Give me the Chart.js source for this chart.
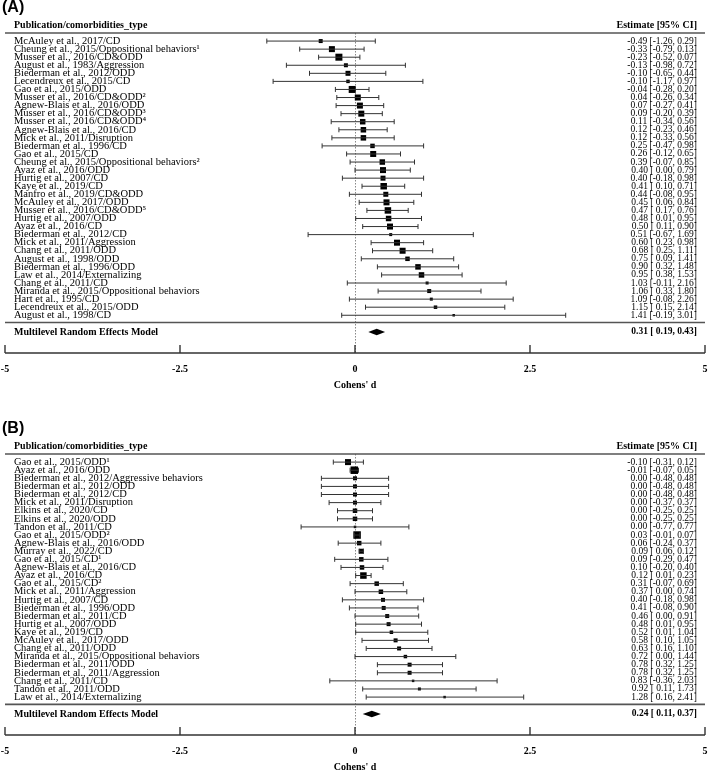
<!DOCTYPE html>
<html>
<head>
<meta charset="utf-8">
<script src="https://cdn.jsdelivr.net/npm/chart.js@4.4.1/dist/chart.umd.min.js"></script>
<style>
  html, body { margin: 0; padding: 0; background: #fff; }
  canvas { position: absolute; left: 0; }
  #chartA { top: 0; }
  #chartB { top: 421px; }
</style>
</head>
<body>
<canvas id="chartA" width="709" height="421"></canvas>
<canvas id="chartB" width="709" height="355"></canvas>
<script>
// ---- panel A data ----
var studiesA = [
  "McAuley et al., 2017/CD", "Cheung et al., 2015/Oppositional behaviors\u00b9", "Musser et al., 2016/CD&ODD",
  "August et al., 1983/Aggression", "Biederman et al., 2012/ODD", "Lecendreux et al., 2015/CD",
  "Gao et al., 2015/ODD", "Musser et al., 2016/CD&ODD\u00b2", "Agnew-Blais et al., 2016/ODD",
  "Musser et al., 2016/CD&ODD\u00b3", "Musser et al., 2016/CD&ODD\u2074", "Agnew-Blais et al., 2016/CD",
  "Mick et al., 2011/Disruption", "Biederman et al., 1996/CD", "Gao et al., 2015/CD",
  "Cheung et al., 2015/Oppositional behaviors\u00b2", "Ayaz et al., 2016/ODD", "Hurtig et al., 2007/CD",
  "Kaye et al., 2019/CD", "Manfro et al., 2019/CD&ODD", "McAuley et al., 2017/ODD",
  "Musser et al., 2016/CD&ODD\u2075", "Hurtig et al., 2007/ODD", "Ayaz et al., 2016/CD",
  "Biederman et al., 2012/CD", "Mick et al., 2011/Aggression", "Chang et al., 2011/ODD",
  "August et al., 1998/ODD", "Biederman et al., 1996/ODD", "Law et al., 2014/Externalizing",
  "Chang et al., 2011/CD", "Miranda et al., 2015/Oppositional behaviors", "Hart et al., 1995/CD",
  "Lecendreux et al., 2015/ODD", "August et al., 1998/CD"
];
var estA  = [-0.49,-0.33,-0.23,-0.13,-0.10,-0.10,-0.04,0.04,0.07,0.09,0.11,0.12,0.12,0.25,0.26,0.39,0.40,0.40,0.41,0.44,0.45,0.47,0.48,0.50,0.51,0.60,0.68,0.75,0.90,0.95,1.03,1.06,1.09,1.15,1.41];
var lowA  = [-1.26,-0.79,-0.52,-0.98,-0.65,-1.17,-0.28,-0.26,-0.27,-0.20,-0.34,-0.23,-0.33,-0.47,-0.12,-0.07,0.00,-0.18,0.10,-0.08,0.06,0.17,0.01,0.11,-0.67,0.23,0.25,0.09,0.32,0.38,-0.11,0.33,-0.08,0.15,-0.19];
var highA = [0.29,0.13,0.07,0.72,0.44,0.97,0.20,0.34,0.41,0.39,0.56,0.46,0.56,0.98,0.65,0.85,0.79,0.98,0.71,0.95,0.84,0.76,0.95,0.90,1.69,0.98,1.11,1.41,1.48,1.53,2.16,1.80,2.26,2.14,3.01];
// relative study weight (box size)
var weightA = [4,6,7,4,5,3.5,7,6,6,6,5.5,5.5,5.5,4.5,6,5.5,6,5,6.5,5,6,6.5,5.5,6,3,6,6,4.5,5.5,5.5,3,4,3,3.5,2.5];
var pooledA = [0.31, 0.19, 0.43];

// ---- panel B data ----
var studiesB = [
  "Gao et al., 2015/ODD\u00b9", "Ayaz et al., 2016/ODD", "Biederman et al., 2012/Aggressive behaviors",
  "Biederman et al., 2012/ODD", "Biederman et al., 2012/CD", "Mick et al., 2011/Disruption",
  "Elkins et al., 2020/CD", "Elkins et al., 2020/ODD", "Tandon et al., 2011/CD",
  "Gao et al., 2015/ODD\u00b2", "Agnew-Blais et al., 2016/ODD", "Murray et al., 2022/CD",
  "Gao et al., 2015/CD\u00b9", "Agnew-Blais et al., 2016/CD", "Ayaz et al., 2016/CD",
  "Gao et al., 2015/CD\u00b2", "Mick et al., 2011/Aggression", "Hurtig et al., 2007/CD",
  "Biederman et al., 1996/ODD", "Biederman et al., 2011/CD", "Hurtig et al., 2007/ODD",
  "Kaye et al., 2019/CD", "McAuley et al., 2017/ODD", "Chang et al., 2011/ODD",
  "Miranda et al., 2015/Oppositional behaviors", "Biederman et al., 2011/ODD", "Biederman et al., 2011/Aggression",
  "Chang et al., 2011/CD", "Tandon et al., 2011/ODD", "Law et al., 2014/Externalizing"
];
var estB  = [-0.10,-0.01,0.00,0.00,0.00,0.00,0.00,0.00,0.00,0.03,0.06,0.09,0.09,0.10,0.12,0.31,0.37,0.40,0.41,0.46,0.48,0.52,0.58,0.63,0.72,0.78,0.78,0.83,0.92,1.28];
var lowB  = [-0.31,-0.07,-0.48,-0.48,-0.48,-0.37,-0.25,-0.25,-0.77,-0.01,-0.24,0.06,-0.29,-0.20,0.01,-0.07,0.00,-0.18,-0.08,0.00,0.01,0.01,0.10,0.16,0.00,0.32,0.32,-0.36,0.11,0.16];
var highB = [0.12,0.05,0.48,0.48,0.48,0.37,0.25,0.25,0.77,0.07,0.37,0.12,0.47,0.40,0.23,0.69,0.74,0.98,0.90,0.91,0.95,1.04,1.05,1.10,1.44,1.25,1.25,2.03,1.73,2.41];
var weightB = [6,7.5,4,4,4,4,4.5,4.5,2.5,7.5,4.5,5,4.5,4.5,6.5,4.5,4.5,4,4,4,4,3.5,4,4,3.5,4,4,2.5,3,2.5];
var pooledB = [0.24, 0.11, 0.37];

var xTicks = [-5, -2.5, 0, 2.5, 5];
var serif = '"Liberation Serif", "Times New Roman", serif';

function f2(v) { return v.toFixed(2); }
function ciText(e, l, h) {
  return f2(e) + ' [' + (l < 0 ? '' : ' ') + f2(l) + ', ' + f2(h) + ']';
}

function makeForest(id, tag, studies, est, low, high, weight, pooled, bottomPad) {
  var n = studies.length;
  var datasets = [];
  // confidence intervals with end caps
  for (var i = 0; i < n; i++) {
    datasets.push({
      data: [{x: low[i], y: i + 1}, {x: high[i], y: i + 1}],
      showLine: true,
      borderColor: '#333',
      borderWidth: 1,
      pointStyle: 'line',
      rotation: 90,
      pointRadius: 2.5,
      pointBorderColor: '#333',
      pointBorderWidth: 1,
      pointHoverRadius: 2.5
    });
  }
  // study estimates (boxes sized by weight)
  datasets.push({
    data: est.map(function (v, i) { return {x: v, y: i + 1}; }),
    pointStyle: 'rect',
    pointRadius: weight.map(function (w) { return w / Math.SQRT2; }),
    backgroundColor: '#000',
    borderWidth: 0,
    pointBorderWidth: 0
  });

  var sumRow = n + 2.08;
  var lineRow = n + 0.9;

  var forest = {
    id: 'forest' + tag,
    beforeDatasetsDraw: function (chart) {
      var ctx = chart.ctx, xs = chart.scales.x, a = chart.chartArea;
      ctx.save();
      var x0 = Math.round(xs.getPixelForValue(0)) + 0.5;
      ctx.strokeStyle = '#888';
      ctx.lineWidth = 1;
      ctx.setLineDash([1.5, 1.5]);
      ctx.beginPath(); ctx.moveTo(x0, a.top); ctx.lineTo(x0, a.bottom); ctx.stroke();
      ctx.restore();
    },
    afterDatasetsDraw: function (chart) {
      var ctx = chart.ctx, xs = chart.scales.x, ys = chart.scales.y, a = chart.chartArea;
      ctx.save();
      // table rules
      ctx.strokeStyle = '#555';
      ctx.lineWidth = 1.6;
      ctx.beginPath(); ctx.moveTo(a.left, a.top); ctx.lineTo(a.right, a.top); ctx.stroke();
      var yl = ys.getPixelForValue(lineRow);
      ctx.beginPath(); ctx.moveTo(a.left, yl); ctx.lineTo(a.right, yl); ctx.stroke();
      // axis with upward ticks
      ctx.strokeStyle = '#333';
      ctx.lineWidth = 1.4;
      ctx.beginPath(); ctx.moveTo(a.left, a.bottom); ctx.lineTo(a.right, a.bottom); ctx.stroke();
      xs.ticks.forEach(function (t) {
        var px = xs.getPixelForValue(t.value);
        ctx.beginPath(); ctx.moveTo(px, a.bottom); ctx.lineTo(px, a.bottom - 8); ctx.stroke();
      });
      // pooled diamond
      var ys0 = ys.getPixelForValue(sumRow);
      ctx.fillStyle = '#000';
      ctx.beginPath();
      ctx.moveTo(xs.getPixelForValue(pooled[1]), ys0);
      ctx.lineTo(xs.getPixelForValue(pooled[0]), ys0 - 3.2);
      ctx.lineTo(xs.getPixelForValue(pooled[2]), ys0);
      ctx.lineTo(xs.getPixelForValue(pooled[0]), ys0 + 3.2);
      ctx.closePath();
      ctx.fill();

      // text
      var lx = a.left + 9, rx = a.right - 8;
      ctx.fillStyle = '#000';
      ctx.textBaseline = 'middle';
      ctx.font = 'bold 16px "Liberation Sans", Arial, sans-serif';
      ctx.textAlign = 'left';
      ctx.fillText('(' + tag + ')', a.left - 3, a.top - 25);
      ctx.font = 'bold 10px ' + serif;
      ctx.fillText('Publication/comorbidities_type', lx, a.top - 8);
      ctx.textAlign = 'right';
      ctx.fillText('Estimate [95% CI]', rx, a.top - 8);

      for (var i = 0; i < n; i++) {
        var py = ys.getPixelForValue(i + 1);
        ctx.textAlign = 'left';
        ctx.font = '10.5px ' + serif;
        ctx.fillText(studies[i], lx, py);
        ctx.textAlign = 'right';
        ctx.font = '9.5px ' + serif;
        ctx.fillText(ciText(est[i], low[i], high[i]), rx, py);
      }
      ctx.font = 'bold 10px ' + serif;
      ctx.textAlign = 'left';
      ctx.fillText('Multilevel Random Effects Model', lx, ys0);
      ctx.textAlign = 'right';
      ctx.font = 'bold 9.5px ' + serif;
      ctx.fillText(ciText(pooled[0], pooled[1], pooled[2]), rx, ys0);

      // axis title
      ctx.textAlign = 'center';
      ctx.font = 'bold 10px ' + serif;
      ctx.fillText("Cohens' d", xs.getPixelForValue(0), a.bottom + 32);
      ctx.restore();
    }
  };

  return new Chart(document.getElementById(id), {
    type: 'scatter',
    data: { datasets: datasets },
    options: {
      responsive: false,
      animation: false,
      events: [],
      layout: { autoPadding: false, padding: { top: 33, left: 5, right: 4, bottom: bottomPad } },
      plugins: { legend: { display: false }, tooltip: { enabled: false } },
      scales: {
        x: {
          type: 'linear',
          min: xTicks[0],
          max: xTicks[xTicks.length - 1],
          afterBuildTicks: function (s) { s.ticks = xTicks.map(function (v) { return {value: v}; }); },
          afterFit: function (s) { s.paddingLeft = 0; s.paddingRight = 0; },
          grid: { display: false, drawTicks: false },
          border: { display: false },
          ticks: {
            padding: 10,
            color: '#000',
            font: { family: serif, size: 10, weight: 'bold' },
            callback: function (v) { return String(v); },
            maxRotation: 0
          }
        },
        y: {
          type: 'linear',
          display: false,
          reverse: true,
          min: 0,
          max: n + 4.68
        }
      }
    },
    plugins: [forest]
  });
}

makeForest('chartA', 'A', studiesA, estA, lowA, highA, weightA, pooledA, 36);
makeForest('chartB', 'B', studiesB, estB, lowB, highB, weightB, pooledB, 9);
</script>
</body>
</html>
